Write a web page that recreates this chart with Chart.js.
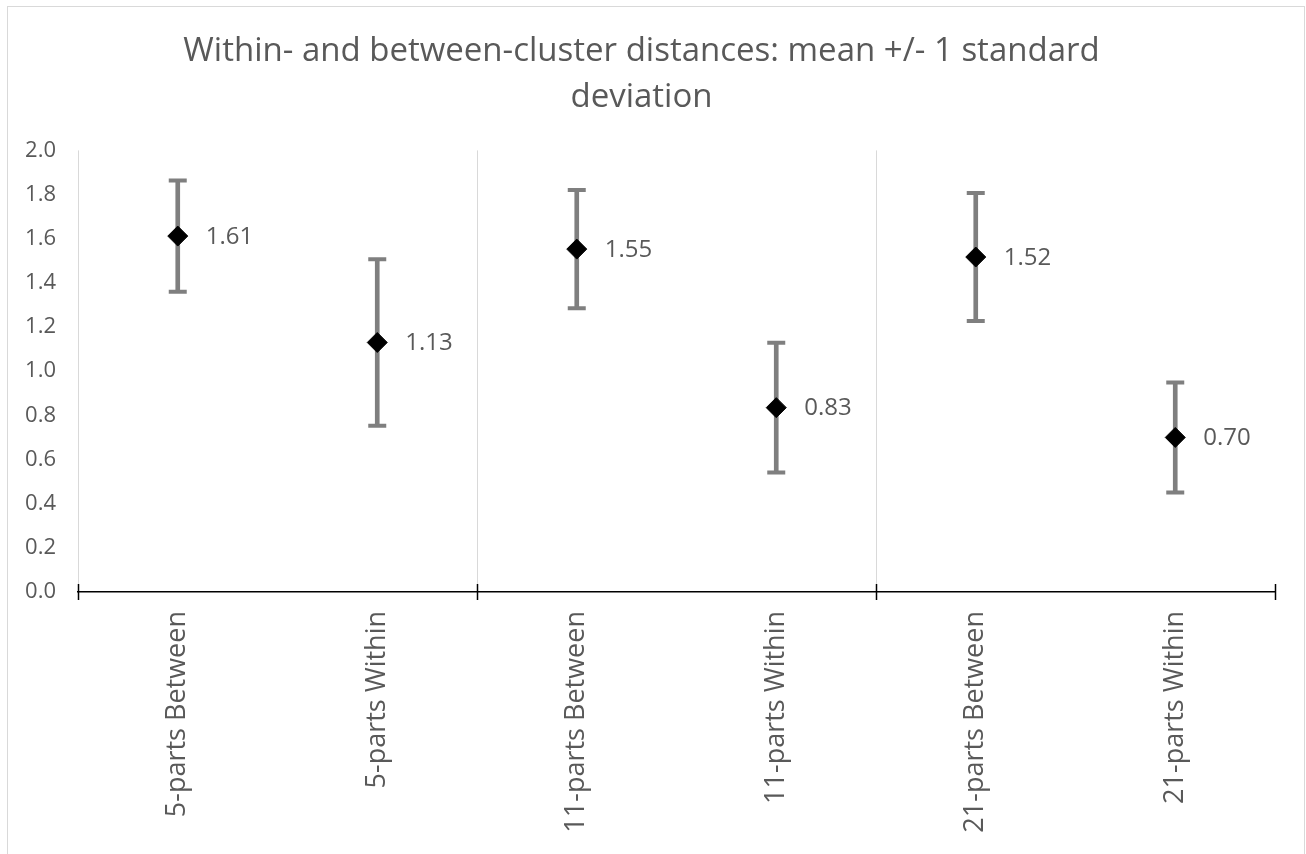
<!DOCTYPE html>
<html>
<head>
<meta charset="utf-8">
<script src="https://cdn.jsdelivr.net/npm/chart.js@4/dist/chart.umd.min.js"></script>
<style>
    body { margin: 0; background: #fff; }
    #frame {
        position: absolute;
        left: 7px;
        top: 6px;
        width: 1296px;
        height: 860px;
        border: 1px solid #d9d9d9;
    }
    #frame canvas { display: block; }
</style>
</head>
<body>
<div id="frame">
    <canvas id="distChart" width="1296" height="847"></canvas>
</div>
<script>
var categories = ["5-parts Between", "5-parts Within", "11-parts Between", "11-parts Within", "21-parts Between", "21-parts Within"];
var means = [1.612, 1.13, 1.553, 0.835, 1.517, 0.70];
var stdDevs = [0.252, 0.377, 0.268, 0.294, 0.29, 0.249];
var meanLabels = ["1.61", "1.13", "1.55", "0.83", "1.52", "0.70"];
var yTicks = [0.0, 0.2, 0.4, 0.6, 0.8, 1.0, 1.2, 1.4, 1.6, 1.8, 2.0];

var textGrey = '#595959';
var barGrey = '#7f7f7f';
var fontName = "'Open Sans', 'Noto Sans', sans-serif";

var lows = means.map(function (m, i) { return m - stdDevs[i]; });
var highs = means.map(function (m, i) { return m + stdDevs[i]; });

// tick marks across the axis line, every second category boundary
var boundaryTicks = {
    id: 'boundaryTicks',
    afterDraw: function (chart) {
        var x = chart.scales.x;
        var ctx = chart.ctx;
        var step = x.width / categories.length;
        ctx.save();
        ctx.strokeStyle = '#000';
        ctx.lineWidth = 1.5;
        for (var k = 0; k <= categories.length; k += 2) {
            var px = Math.round(x.left + k * step) + 0.5;
            ctx.beginPath();
            ctx.moveTo(px, x.top - 8);
            ctx.lineTo(px, x.top + 8);
            ctx.stroke();
        }
        ctx.restore();
    }
};

// value labels to the right of the diamonds
var meanValueLabels = {
    id: 'meanValueLabels',
    afterDatasetsDraw: function (chart) {
        var meta = chart.getDatasetMeta(3);
        var ctx = chart.ctx;
        ctx.save();
        ctx.fillStyle = textGrey;
        ctx.font = "24px " + fontName;
        ctx.textAlign = 'left';
        ctx.textBaseline = 'middle';
        meta.data.forEach(function (pt, i) {
            ctx.fillText(meanLabels[i], pt.x + 28, pt.y + 1);
        });
        ctx.restore();
    }
};

var ctx = document.getElementById('distChart');

var distChart = new Chart(ctx, {
    type: 'bar',
    data: {
        labels: categories,
        datasets: [
            {
                label: 'sd range',
                data: lows.map(function (l, i) { return [l, highs[i]]; }),
                backgroundColor: barGrey,
                borderWidth: 0,
                barThickness: 4,
                order: 4
            },
            {
                type: 'line',
                label: 'upper',
                data: highs,
                showLine: false,
                pointStyle: 'line',
                pointRadius: 9,
                pointBorderWidth: 4,
                pointBorderColor: barGrey,
                order: 3
            },
            {
                type: 'line',
                label: 'lower',
                data: lows,
                showLine: false,
                pointStyle: 'line',
                pointRadius: 9,
                pointBorderWidth: 4,
                pointBorderColor: barGrey,
                order: 2
            },
            {
                type: 'line',
                label: 'mean',
                data: means,
                showLine: false,
                pointStyle: 'rectRot',
                pointRadius: 10,
                pointBackgroundColor: '#000',
                pointBorderColor: '#000',
                pointBorderWidth: 1,
                order: 1
            }
        ]
    },
    options: {
        responsive: false,
        animation: false,
        layout: { padding: { top: 21, right: 29, left: 0, bottom: 0 } },
        plugins: {
            legend: { display: false },
            tooltip: { enabled: false },
            title: {
                display: true,
                text: ["Within- and between-cluster distances: mean +/- 1 standard", "deviation"],
                color: textGrey,
                font: { family: fontName, size: 33, weight: 'normal', lineHeight: 1.4 },
                padding: { top: 0, bottom: 30 }
            }
        },
        scales: {
            x: {
                offset: true,
                grid: {
                    offset: true,
                    drawTicks: false,
                    lineWidth: 1,
                    color: function (c) { return c.index % 2 === 0 ? '#d9d9d9' : 'rgba(0,0,0,0)'; }
                },
                border: { display: true, color: '#000', width: 1.5 },
                ticks: {
                    color: textGrey,
                    font: { family: fontName, size: 27 },
                    minRotation: 90,
                    maxRotation: 90,
                    padding: 19,
                    autoSkip: false
                },
                afterFit: function (scale) { scale.height = 262; }
            },
            y: {
                min: 0,
                max: 2,
                afterBuildTicks: function (scale) {
                    scale.ticks = yTicks.map(function (v) { return { value: v }; });
                },
                grid: { display: false, drawTicks: false },
                border: { display: false },
                ticks: {
                    color: textGrey,
                    font: { family: fontName, size: 22 },
                    padding: 22,
                    callback: function (v) { return v.toFixed(1); }
                },
                afterFit: function (scale) { scale.width = 70; }
            }
        }
    },
    plugins: [boundaryTicks, meanValueLabels]
});
</script>
</body>
</html>
